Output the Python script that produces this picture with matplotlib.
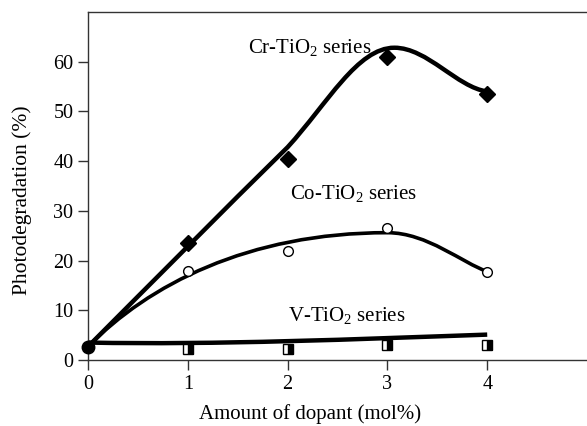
import matplotlib
matplotlib.use("Agg")
import matplotlib.pyplot as plt
from matplotlib.path import Path
from matplotlib.patches import PathPatch

plt.rcParams['font.family'] = ['Liberation Serif', 'DejaVu Serif']
plt.rcParams['mathtext.fontset'] = 'custom'
plt.rcParams['mathtext.rm'] = 'Liberation Serif'
plt.rcParams['mathtext.it'] = 'Liberation Serif:italic'

# data
dopant = [1, 2, 3, 4]
cr_vals = [23.5, 40.5, 61.0, 53.5]
co_vals = [17.8, 22.0, 26.6, 17.6]
v_vals = [2.2, 2.2, 3.0, 3.0]
origin_x = [0]
origin_y = [2.7]

# smoothed trend curves (cubic Bezier control points, data units)
cr_curve_x = [0, 0.67, 1.33, 2.0, 2.4, 2.7, 3.07, 3.4, 3.7, 4.0]
cr_curve_y = [2.7, 16.2, 29.6, 42.8, 51.6, 62.8, 62.8, 62.8, 54.8, 54.0]
co_curve_x = [0, 0.6, 1.6, 3.0, 3.4, 3.75, 4.0]
co_curve_y = [2.7, 15.0, 25.6, 25.6, 25.6, 19.5, 17.8]
v_curve_x = [0, 1.3, 2.7, 4.0]
v_curve_y = [3.5, 3.0, 4.2, 5.1]

xticks = [0, 1, 2, 3, 4]
yticks = [0, 10, 20, 30, 40, 50, 60]

fig = plt.figure(figsize=(5.87, 4.26), dpi=100)
ax = fig.add_axes([0.150, 0.155, 0.850, 0.817])

def bezier(xs, ys, lw):
    verts = list(zip(xs, ys))
    codes = [Path.MOVETO] + [Path.CURVE4] * (len(verts) - 1)
    p = PathPatch(Path(verts, codes), facecolor='none', edgecolor='black',
                  lw=lw, capstyle='butt', zorder=2)
    ax.add_patch(p)

bezier(cr_curve_x, cr_curve_y, 3.2)
bezier(co_curve_x, co_curve_y, 2.6)
bezier(v_curve_x, v_curve_y, 3.2)

ax.plot(dopant, cr_vals, linestyle='none', marker='D', ms=8, color='black', zorder=3)
ax.plot(dopant, co_vals, linestyle='none', marker='o', ms=7, mfc='white', mec='black', mew=1, zorder=3)
ax.plot(dopant, v_vals, linestyle='none', marker='s', ms=7, fillstyle='right',
        color='black', mfc='black', mfcalt='white', mec='black', mew=1, zorder=3)
ax.plot(origin_x, origin_y, linestyle='none', marker='o', ms=9, color='black', zorder=4, clip_on=False)

ax.set_xlim(0, 5)
ax.set_ylim(0, 70)
ax.set_xticks(xticks)
ax.set_yticks(yticks)
ax.tick_params(axis='both', labelsize=14.5, length=7, width=1, color='#333333', direction='out')
ax.spines['right'].set_visible(False)
for s in ['left', 'top', 'bottom']:
    ax.spines[s].set_linewidth(1)
    ax.spines[s].set_color('#333333')

ax.set_xlabel('Amount of dopant (mol%)', fontsize=15)
ax.set_ylabel('Photodegradation (%)', fontsize=15.5)
ax.xaxis.set_label_coords(0.445, -0.128)
ax.yaxis.set_label_coords(-0.113, 0.46)

ax.text(1.6, 62.8, r'Cr-TiO$_2$ series', fontsize=15, va='center', ha='left')
ax.text(2.02, 33.5, r'Co-TiO$_2$ series', fontsize=15, va='center', ha='left')
ax.text(2.0, 8.9, r'V-TiO$_2$ series', fontsize=15, va='center', ha='left')

fig.savefig('out.png', dpi=100)
